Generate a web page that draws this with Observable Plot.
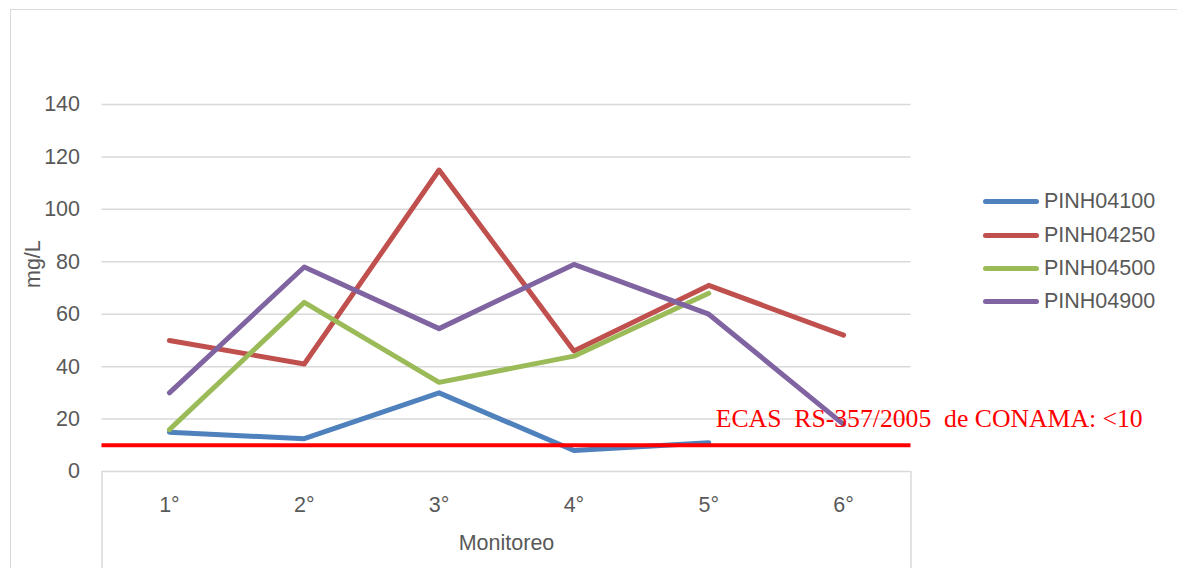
<!DOCTYPE html>
<html>
<head>
<meta charset="utf-8">
<script src="https://cdn.jsdelivr.net/npm/d3@7"></script>
<script src="https://cdn.jsdelivr.net/npm/@observablehq/plot@0.6"></script>
<style>
  html, body { margin: 0; padding: 0; background: #fff; }
  #wrap { position: relative; width: 1177px; height: 568px; overflow: hidden; }
  #border { position: absolute; left: 10px; top: 9px; width: 1200px; height: 600px;
            border: 1.5px solid #d9d9d9; box-sizing: border-box; }
  #chart { position: absolute; left: 0; top: 0; }
  #legend { position: absolute; left: 983px; top: 185px; font-family: "Liberation Sans", Arial, sans-serif;
            font-size: 21.5px; color: #595959; }
  .item { display: flex; align-items: center; height: 33.4px; }
  .swatch { width: 56px; height: 5px; border-radius: 3px; margin-right: 5px; }
</style>
</head>
<body>
<div id="wrap">
  <div id="border"></div>
  <div id="chart"></div>
  <div id="legend"></div>
</div>
<script>
// Monitoring rounds (category axis)
const monitoreos = ["1°", "2°", "3°", "4°", "5°", "6°"];

// Station names and their colours
const estaciones = ["PINH04100", "PINH04250", "PINH04500", "PINH04900"];
const colores = ["#4f81bd", "#c0504d", "#9bbb59", "#8064a2"];

// Concentrations in mg/L per monitoring round (null = not sampled)
const pinh04100 = [15, 12.5, 30, 8, 11, null];
const pinh04250 = [50, 41, 115, 46, 71, 52];
const pinh04500 = [16, 64.5, 34, 44, 68, null];
const pinh04900 = [30, 78, 54.5, 79, 60, 18];

// Reference limit (CONAMA RS-357/2005)
const limite = 10;
const limiteTexto = "ECAS  RS-357/2005  de CONAMA: <10";

// Y axis ticks
const yTicks = [0, 20, 40, 60, 80, 100, 120, 140];

const series = [pinh04100, pinh04250, pinh04500, pinh04900];
const rows = [];
series.forEach((vals, s) => {
  vals.forEach((v, i) => {
    if (v != null) rows.push({ estacion: estaciones[s], monitoreo: monitoreos[i], valor: v });
  });
});

const font = '"Liberation Sans", Arial, sans-serif';
const W = 1177, H = 568, mL = 101.5, mR = 266.5, mT = 104, mB = 97;
// half of one category slot, used to put the box sides on the slot edges
const halfStep = (W - mL - mR) / monitoreos.length / 2;

const boxSide = (cat, dx) => Plot.ruleX([cat], {
  y1: 0, y2: 0, insetBottom: -mB, dx, stroke: "#d9d9d9", strokeWidth: 1.5
});

const chart = Plot.plot({
  width: W,
  height: H,
  marginLeft: mL,
  marginRight: mR,
  marginTop: mT,
  marginBottom: mB,
  style: { fontFamily: font, fontSize: "21.5px", color: "#595959", background: "transparent", overflow: "visible" },
  x: { type: "point", domain: monitoreos, padding: 0.5, round: false },
  y: { domain: [0, 140] },
  color: { domain: estaciones, range: colores },
  marks: [
    Plot.ruleY(yTicks, { stroke: "#d9d9d9", strokeWidth: 1.5 }),
    boxSide(monitoreos[0], -halfStep),
    boxSide(monitoreos[monitoreos.length - 1], halfStep),
    Plot.axisY({ ticks: yTicks, tickSize: 0, tickPadding: 22, label: null, fontSize: 21.5 }),
    Plot.axisX({ tickSize: 0, tickPadding: 25, label: null, fontSize: 21.5 }),
    Plot.line(rows, {
      x: "monitoreo", y: "valor", z: "estacion", stroke: "estacion",
      strokeWidth: 5, strokeLinejoin: "round", strokeLinecap: "round"
    }),
    Plot.ruleY([limite], { stroke: "#ff0000", strokeWidth: 4 }),
    Plot.text([limiteTexto], {
      x: () => monitoreos[4], y: () => 20, text: d => d, textAnchor: "start", dx: 7,
      fill: "#ff0000", fontFamily: '"Liberation Serif", "Times New Roman", serif', fontSize: 25.7,
      style: "white-space: pre"
    }),
    Plot.text(["mg/L"], { frameAnchor: "left", rotate: -90, dx: -69, fontSize: 21.5, fill: "#595959" }),
    Plot.text(["Monitoreo"], { frameAnchor: "bottom", dy: 78, fontSize: 21.5, fill: "#595959" })
  ]
});
document.getElementById("chart").appendChild(chart);

// Legend built from station names and colours
const legend = document.getElementById("legend");
estaciones.forEach((name, i) => {
  const item = document.createElement("div");
  item.className = "item";
  const sw = document.createElement("div");
  sw.className = "swatch";
  sw.style.background = colores[i];
  const label = document.createElement("span");
  label.textContent = name;
  item.appendChild(sw);
  item.appendChild(label);
  legend.appendChild(item);
});
</script>
</body>
</html>
